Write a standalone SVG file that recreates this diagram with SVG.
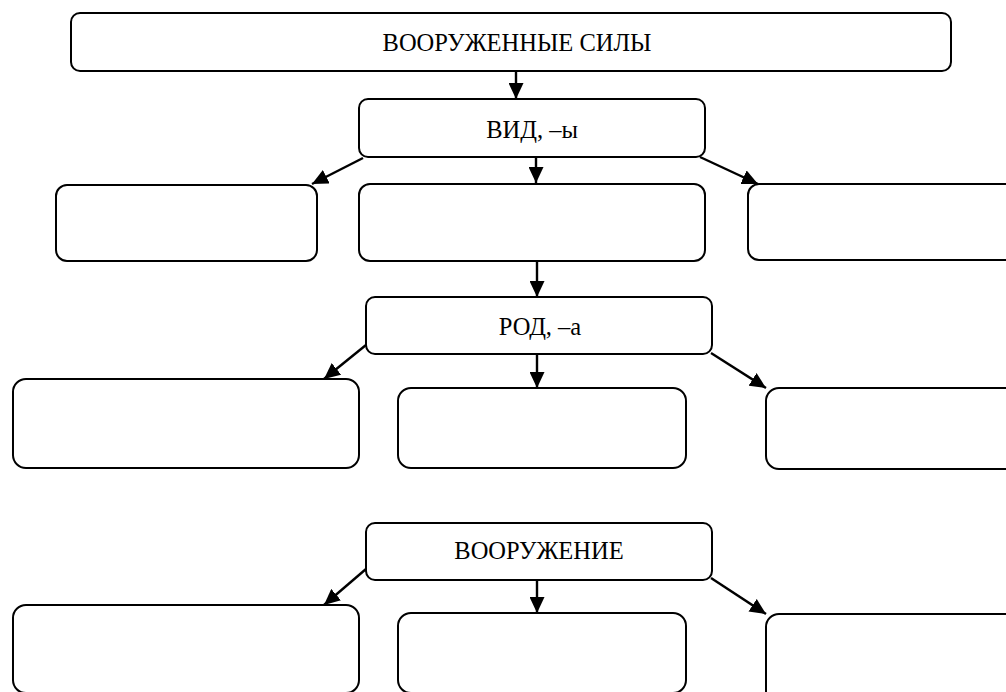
<svg xmlns="http://www.w3.org/2000/svg" width="1006" height="692" viewBox="0 0 1006 692">
<style>
.box{fill:#fff;stroke:#000;stroke-width:2}
.lbl{font-family:"Liberation Serif","Times New Roman",serif;font-size:24.5px;fill:#000;text-anchor:middle}
.con{stroke:#000;stroke-width:2.4;fill:none;marker-end:url(#ah)}
</style>
<defs>
<marker id="ah" markerUnits="userSpaceOnUse" markerWidth="17" markerHeight="15" refX="16" refY="7.5" orient="auto">
<path d="M0,0 L16,7.5 L0,15 Z" fill="#000"/>
</marker>
</defs>
<rect width="1006" height="692" fill="#fff"/>
<g id="n-armed"><rect class="box" x="71" y="13" width="880" height="58" rx="9"/><text class="lbl" x="517" y="51">ВООРУЖЕННЫЕ СИЛЫ</text></g>
<g id="n-vid"><rect class="box" x="359" y="99" width="346" height="58" rx="9"/><text class="lbl" x="532" y="138">ВИД, –ы</text></g>
<g id="n-v1"><rect class="box" x="56" y="185" width="261" height="76" rx="11"/></g>
<g id="n-v2"><rect class="box" x="359" y="184" width="346" height="77" rx="11"/></g>
<g id="n-v3"><rect class="box" x="748" y="184" width="280" height="76" rx="11"/></g>
<g id="n-rod"><rect class="box" x="366" y="297" width="346" height="57" rx="9"/><text class="lbl" x="540" y="335">РОД, –а</text></g>
<g id="n-r1"><rect class="box" x="13" y="379" width="346" height="89" rx="13"/></g>
<g id="n-r2"><rect class="box" x="398" y="388" width="288" height="80" rx="13"/></g>
<g id="n-r3"><rect class="box" x="766" y="388" width="270" height="81" rx="13"/></g>
<g id="n-arm"><rect class="box" x="366" y="523" width="346" height="57" rx="9"/><text class="lbl" x="539" y="559">ВООРУЖЕНИЕ</text></g>
<g id="n-a1"><rect class="box" x="13" y="605" width="346" height="88" rx="13"/></g>
<g id="n-a2"><rect class="box" x="398" y="613" width="288" height="80" rx="13"/></g>
<g id="n-a3"><rect class="box" x="766" y="614" width="270" height="90" rx="13"/></g>
<g id="connectors">
<line class="con" x1="516" y1="71" x2="516" y2="99"/>
<line class="con" x1="363" y1="158" x2="312" y2="184"/>
<line class="con" x1="536" y1="157" x2="536" y2="183"/>
<line class="con" x1="700" y1="157" x2="758" y2="184"/>
<line class="con" x1="537" y1="261" x2="537" y2="297"/>
<line class="con" x1="366" y1="345" x2="324" y2="379"/>
<line class="con" x1="537" y1="354" x2="537" y2="388"/>
<line class="con" x1="711" y1="353" x2="766" y2="388"/>
<line class="con" x1="366" y1="569" x2="324" y2="605"/>
<line class="con" x1="537" y1="580" x2="537" y2="613"/>
<line class="con" x1="711" y1="578" x2="766" y2="614"/>
</g>
</svg>
